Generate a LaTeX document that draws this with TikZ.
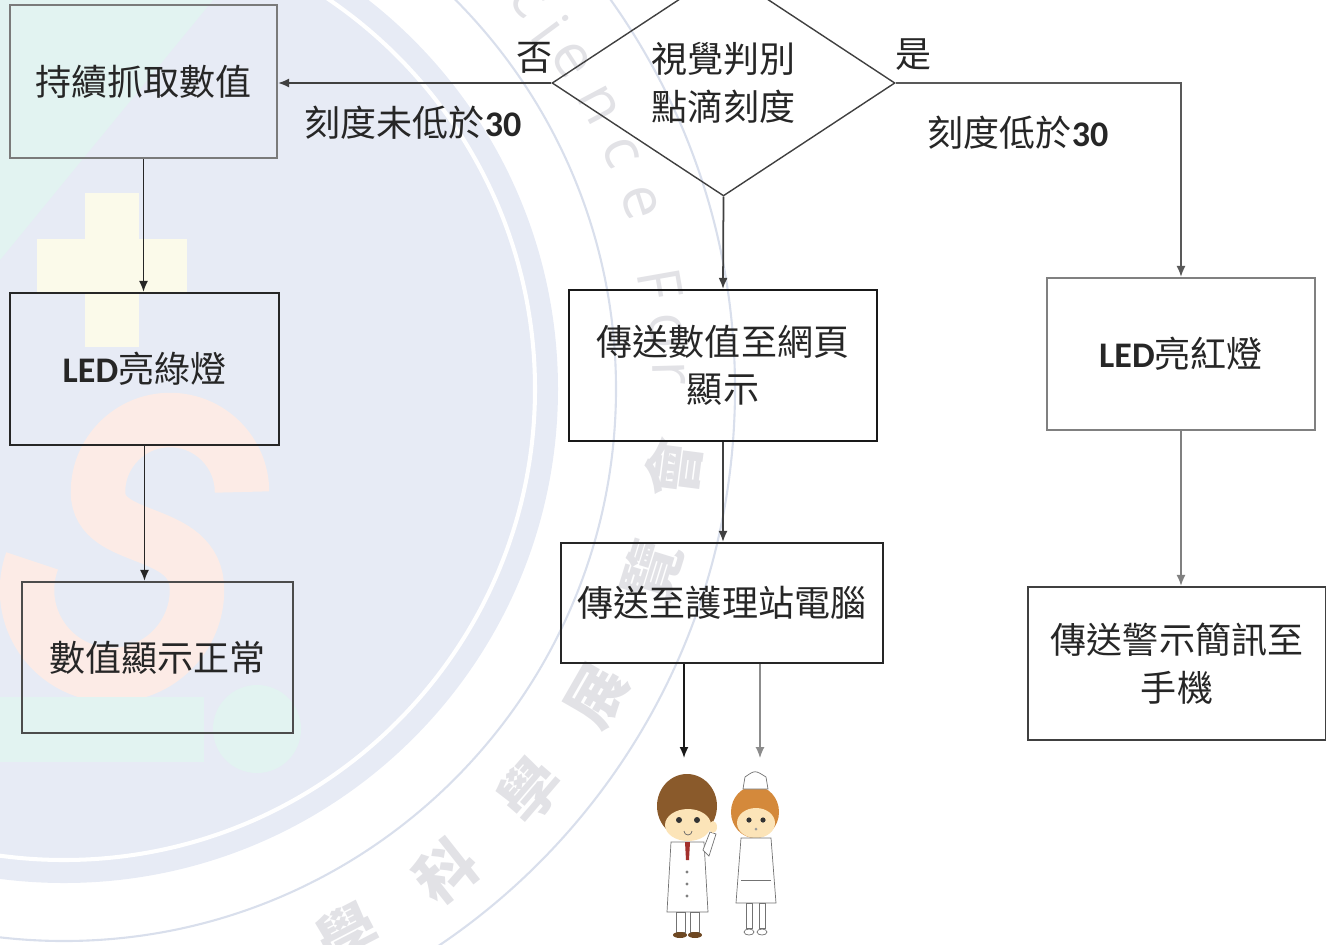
\documentclass[tikz,border=0pt]{standalone}
\usepackage{fontspec}
\setmainfont{Carlito}
\newfontfamily\cjk{Noto Sans CJK TC}
\newfontfamily\wmfont{Open Sans}
\usetikzlibrary{shapes.geometric,arrows.meta,calc}

\definecolor{ink}{HTML}{262626}
\definecolor{edgegray}{HTML}{7A7A7A}
\definecolor{diskblue}{HTML}{E7EBF5}
\definecolor{ringblue}{HTML}{D9DFEC}
\definecolor{wmgray}{HTML}{E2E2E6}
\definecolor{logoteal}{HTML}{E2F3F1}
\definecolor{logoyellow}{HTML}{FBFAEA}
\definecolor{logoorange}{HTML}{FCEBE6}
\definecolor{hairbrown}{HTML}{8A5A2B}
\definecolor{hairorange}{HTML}{D4893B}
\definecolor{skin}{HTML}{FCE4B8}
\definecolor{tiered}{HTML}{A3302C}

\tikzset{
  box/.style={draw=ink, line width=1.2pt, rectangle, align=center, text=ink,
    font=\cjk\fontsize{20.5}{27}\selectfont, inner sep=2pt},
  flow/.style={draw=ink, line width=1pt, -{Latex[length=2.2mm,width=1.8mm]}},
  tag/.style={text=ink, font=\cjk\fontsize{20.5}{24}\selectfont, inner sep=0pt},
  wmchar/.style={text=wmgray, inner sep=0pt},
  figline/.style={draw=black!55, line width=0.4pt},
}

\begin{document}
\begin{tikzpicture}[x=0.02cm, y=-0.02cm]
    \useasboundingbox (0,0) rectangle (1326,944);
    \clip (0,0) rectangle (1326,944);

    % watermark: disk, logo and rings
    \fill[diskblue] (64,389) circle (494);
    \fill[logoteal] (0,0) -- (213,0) -- (0,260) -- cycle;
    \fill[logoyellow] (85,193) rectangle (139,347);
    \fill[logoyellow] (37,239) rectangle (187,292);
    \draw[logoorange, line width=31pt] (242,492) arc[start angle=0, end angle=-180, radius=72]
        .. controls (98,545) and (197,525) .. (197,590) arc[start angle=0, end angle=200, radius=85];
    \fill[logoteal] (0,697) rectangle (204,762);
    \fill[logoteal] (257,729) circle (44);
    \draw[white, line width=2.3pt] (64,389) circle (471);
    \draw[ringblue, line width=1.2pt] (64,389) circle (552);
    \draw[ringblue, line width=1.2pt] (64,389) circle (671);

    \foreach \ch/\ang in {c/-40, i/-36.5, e/-33, n/-28, c/-23, e/-18, F/-10, o/-5.5, r/-1.5} {
        \node[wmchar, font={\wmfont\fontsize{34}{34}\selectfont}, rotate={-(\ang+90)}]
            at ($(64,389)+(\ang:605)$) {\ch};
    }
    \foreach \ch/\ang in {學/62.5, 科/51.6, 學/40.7, 展/29.9, 覽/17.2, 會/7.4} {
        \node[wmchar, font={\cjk\bfseries\fontsize{34}{34}\selectfont}, rotate={90-\ang}]
            at ($(64,389)+(\ang:615)$) {\ch};
    }

    % flow chart
    \node[box, draw=edgegray, minimum width=5.34cm, minimum height=3.06cm] (grab) at (143.5,81.5) {持續抓取數值};
    \node[box, draw=black!85, minimum width=5.38cm, minimum height=3.04cm] (green) at (144.5,369) {{\rmfamily\bfseries LED}亮綠燈};
    \node[box, draw=black!70, minimum width=5.42cm, minimum height=3.02cm] (normal) at (157.5,657.5) {數值顯示正常};

    \node[draw=black!75, line width=0.8pt, diamond, aspect=1.52, minimum width=6.86cm, minimum height=4.52cm,
        inner sep=0pt, align=center, text=ink, font=\cjk\fontsize{20.5}{27}\selectfont] (judge) at (723.5,83) {視覺判別\\點滴刻度};
    \node[box, draw=black!90, minimum width=6.16cm, minimum height=3.02cm] (web) at (723,365.5) {傳送數值至網頁\\顯示};
    \node[box, draw=black!85, minimum width=6.44cm, minimum height=2.4cm] (station) at (722,603) {傳送至護理站電腦};

    \node[box, draw=black!50, minimum width=5.36cm, minimum height=3.04cm] (red) at (1181,354) {{\rmfamily\bfseries LED}亮紅燈};
    \node[box, draw=black!75, minimum width=5.96cm, minimum height=3.06cm] (sms) at (1177,663.5) {傳送警示簡訊至\\手機};

    \node[tag] (no) at (535,58) {否};
    \node[tag] (yes) at (914,55) {是};
    \node[tag] (notlow) at (413,123) {刻度未低於{\rmfamily\bfseries 30}};
    \node[tag] (low) at (1018,133) {刻度低於{\rmfamily\bfseries 30}};

    \draw[flow, draw=black!75] (judge.west) -- (judge.west -| grab.east);
    \draw[flow, draw=black!65] (judge.east) -| (red.north);
    \draw[flow, draw=black!75] (judge.south) -- (web.north);
    \draw[flow] (grab.south) -- (grab.south |- green.north);
    \draw[flow] (green.south) -- (green.south |- normal.north);
    \draw[flow, draw=black!75] (web.south) -- (web.south |- station.north);
    \draw[flow, draw=black!50] (red.south) -- (red.south |- sms.north);

    \coordinate (doc) at (684,758);
    \coordinate (nurse) at (760,758);
    \draw[flow, draw=black!90] (station.south -| doc) -- (doc);
    \draw[flow, draw=black!45, line width=0.7pt] (station.south -| nurse) -- (nurse);

    % doctor
    \fill[hairbrown] (687,806) ellipse [x radius=30, y radius=32];
    \fill[skin] (688,825) ellipse [x radius=23, y radius=16];
    \fill[black!80] (679,820) circle (3) (697,820) circle (3);
    \draw[black!60, line width=0.4pt] (684,831) arc[start angle=180, end angle=0, radius=4];
    \draw[figline, fill=white] (671,842) -- (704,842) -- (708,912) -- (667,912) -- cycle;
    \fill[tiered] (685,842) -- (690,842) -- (689,860) -- (686,860) -- cycle;
    \fill[black!50] (687,872) circle (1.6) (687,884) circle (1.6) (687,896) circle (1.6);
    \draw[figline, fill=white] (703,850) -- (710,832) -- (716,834) -- (709,856) -- cycle;
    \fill[skin] (713,827) ellipse [x radius=4, y radius=6];
    \draw[figline, fill=white] (676,912) rectangle (685,932);
    \draw[figline, fill=white] (690,912) rectangle (699,932);
    \fill[hairbrown!80!black] (680,935) ellipse [x radius=7, y radius=3];
    \fill[hairbrown!80!black] (695,935) ellipse [x radius=7, y radius=3];

    % nurse
    \fill[hairorange] (755,812) ellipse [x radius=24, y radius=26];
    \draw[figline, fill=white] (743,789) -- (745,777) .. controls (755,770) .. (766,777) -- (768,789) -- cycle;
    \fill[skin] (756,823) ellipse [x radius=19, y radius=15];
    \fill[black!80] (749,820) circle (2.6) (763,820) circle (2.6);
    \fill[black!40] (756,829) circle (1.5);
    \draw[figline, fill=white] (741,838) -- (771,838) -- (776,903) -- (736,903) -- cycle;
    \draw[figline] (741,880) -- (771,880);
    \draw[figline, fill=white] (746,903) rectangle (752,928);
    \draw[figline, fill=white] (759,903) rectangle (765,928);
    \draw[figline, fill=white] (749,932) ellipse [x radius=5, y radius=3];
    \draw[figline, fill=white] (762,932) ellipse [x radius=5, y radius=3];
\end{tikzpicture}
\end{document}
